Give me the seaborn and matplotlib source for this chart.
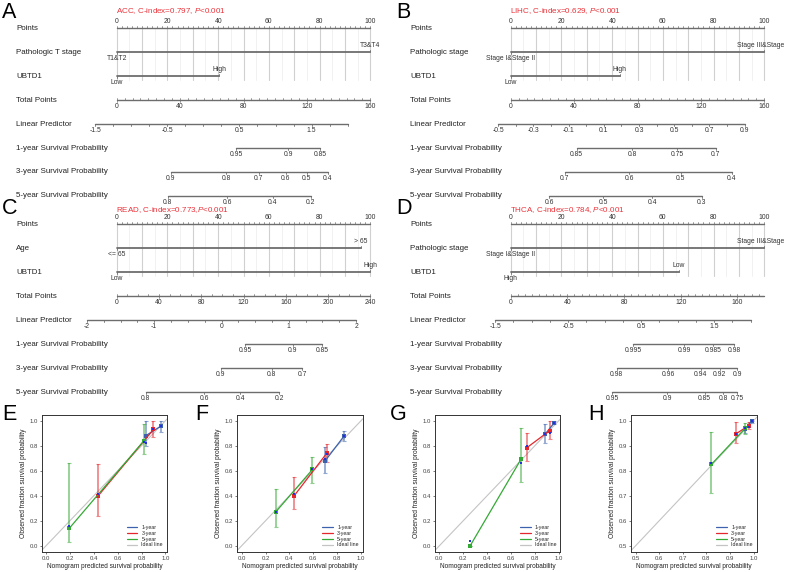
import numpy as np
import pandas as pd
import matplotlib
matplotlib.use("Agg")
import matplotlib.pyplot as plt
import seaborn as sns
from matplotlib.lines import Line2D

sns.set_theme(style="white")
plt.rcParams['font.family'] = ['Liberation Sans', 'DejaVu Sans']
plt.rcParams['mathtext.fontset'] = 'custom'
plt.rcParams['mathtext.rm'] = 'Liberation Sans'
plt.rcParams['mathtext.it'] = 'Liberation Sans:italic'

# ======================= DATA =======================
# --- nomograms (A-D) ---
nomo_letters = ["A", "B", "C", "D"]
nomo_titles = [r"ACC, C-index=0.797, $\mathit{P}$<0.001",
               r"LIHC, C-index=0.629, $\mathit{P}$<0.001",
               r"READ, C-index=0.773,$\mathit{P}$<0.001",
               r"THCA, C-index=0.784, $\mathit{P}$<0.001"]
row_names = ["Points", None, "UBTD1", "Total Points", "Linear Predictor",
             "1-year Survival Probability", "3-year Survival Probability",
             "5-year Survival Probability"]
clin_names = ["Pathologic T stage", "Pathologic stage", "Age", "Pathologic stage"]
clin_levels = [["T1&T2", "T3&T4"],
               ["Stage I&Stage II", "Stage III&Stage"],
               ["<= 65", "> 65"],
               ["Stage I&Stage II", "Stage III&Stage"]]
clin_points = [[0, 100], [0, 100], [0, 96.2], [0, 100]]
ubtd1_levels = [["Low", "High"], ["Low", "High"], ["Low", "High"], ["High", "Low"]]
ubtd1_points = [[0, 40.5], [0, 43.0], [0, 100], [0, 66.4]]
total_max = [160, 160, 240, 179]
total_label_step = [40, 40, 40, 40]
total_minor_step = [5, 5, 10, 5]
lp_range = [(-1.5, 2.0), (-0.5, 0.9), (-2.0, 2.0), (-1.5, 2.0)]
lp_minor_step = [0.25, 0.1, 0.25, 0.25]
lp_labels = [[-1.5, -0.5, 0.5, 1.5],
             [-0.5, -0.3, -0.1, 0.1, 0.3, 0.5, 0.7, 0.9],
             [-2, -1, 0, 1, 2],
             [-1.5, -0.5, 0.5, 1.5]]
lp_zero_total = [54.7, 47.6, 99.2, 66.3]          # total points where LP = 0
lp_total_per_unit = [45.5, 111.1, 63.65, 51.5]     # total points per LP unit
surv1_probs = [[0.95, 0.9, 0.85], [0.85, 0.8, 0.75, 0.7],
               [0.95, 0.9, 0.85], [0.995, 0.99, 0.985, 0.98]]
surv1_total = [[75.2, 108.3, 128.3], [41.6, 76.7, 105.1, 129.3],
               [121.4, 166.6, 194.3], [86.5, 122.3, 143.0, 157.8]]
surv3_probs = [[0.9, 0.8, 0.7, 0.6, 0.5, 0.4], [0.7, 0.6, 0.5, 0.4],
               [0.9, 0.8, 0.7], [0.98, 0.96, 0.94, 0.92, 0.9]]
surv3_total = [[34.2, 69.0, 89.6, 106.6, 119.8, 133.1], [34.1, 74.6, 107.3, 139.4],
               [98.7, 146.7, 175.6], [74.8, 111.0, 134.1, 147.5, 159.9]]
surv5_probs = [[0.8, 0.6, 0.4, 0.2], [0.6, 0.5, 0.4, 0.3],
               [0.8, 0.6, 0.4, 0.2], [0.95, 0.9, 0.85, 0.8, 0.75]]
surv5_total = [[32.2, 69.8, 98.4, 122.4], [24.4, 58.4, 89.3, 120.5],
               [27.4, 82.9, 116.7, 153.6], [71.7, 110.5, 136.9, 150.1, 159.9]]

# --- calibration curves (E-H) ---
calib_letters = ["E", "F", "G", "H"]
series_names = ["1-year", "3-year", "5-year"]
# columns: predicted, observed, lower, upper, bias-corrected
calib_E = {"1-year": [[0.835, 0.88, 0.80, 1.00, 0.82], [0.967, 0.96, 0.91, 1.00, 0.955]],
           "3-year": [[0.437, 0.40, 0.24, 0.65, 0.41], [0.900, 0.93, 0.87, 1.00, 0.935]],
           "5-year": [[0.195, 0.14, 0.03, 0.66, 0.16], [0.820, 0.84, 0.73, 0.97, 0.83]]}
calib_F = {"1-year": [[0.700, 0.68, 0.58, 0.79, 0.69], [0.860, 0.88, 0.84, 0.92, 0.875]],
           "3-year": [[0.440, 0.40, 0.29, 0.55, 0.41], [0.713, 0.74, 0.67, 0.81, 0.73]],
           "5-year": [[0.285, 0.27, 0.15, 0.45, 0.27], [0.593, 0.61, 0.50, 0.71, 0.61]]}
calib_G = {"1-year": [[0.888, 0.895, 0.82, 0.97, 0.89], [0.964, 0.985, 0.97, 1.00, 0.985]],
           "3-year": [[0.734, 0.785, 0.68, 0.90, 0.80], [0.924, 0.92, 0.85, 1.00, 0.905]],
           "5-year": [[0.258, 0.00, 0.00, 0.00, 0.04], [0.683, 0.69, 0.51, 0.94, 0.66]]}
calib_H = {"1-year": [[0.965, 0.965, 0.95, 0.98, 0.97], [0.992, 1.00, 0.99, 1.00, 1.00]],
           "3-year": [[0.926, 0.948, 0.91, 0.995, 0.945], [0.979, 0.98, 0.965, 0.995, 0.975]],
           "5-year": [[0.821, 0.825, 0.71, 0.955, 0.83], [0.965, 0.97, 0.945, 0.99, 0.97]]}
calib_data = [calib_E, calib_F, calib_G, calib_H]
calib_ticks = [[0.0, 0.2, 0.4, 0.6, 0.8, 1.0]] * 3 + [[0.5, 0.6, 0.7, 0.8, 0.9, 1.0]]
calib_lims = [(-0.037, 1.015)] * 3 + [(0.4815, 1.014)]
calib_ylims = [(-0.048, 1.046)] * 3 + [(0.476, 1.023)]

# ======================= STYLE / LAYOUT =======================
W, H = 788, 572
fig = plt.figure(figsize=(W / 100, H / 100), dpi=100)
renderer = fig.canvas.get_renderer()

LINE_C = "#6d6d6d"
TXT_C = "#222222"
TICK_C = "#333333"
ROW_FS = 5.7
TICK_FS = 4.9
PX_PER_PT = 2.536
ORIGIN_PX = 116.7
ROW_PX = 24.0
PANEL_W, PANEL_H = 394, 200

def fmt(v):
    return f"{v:g}"

def keep_inside(ax, t, margin_px=4):
    bb = t.get_window_extent(renderer)
    over = bb.x1 - (W - margin_px)
    if over > 0:
        x, y = t.get_position()
        t.set_position((x - over / PX_PER_PT, y))

def draw_nomogram(i, x0, y0, title_y):
    ax = fig.add_axes([x0 / W, 1 - (y0 + PANEL_H) / H, PANEL_W / W, PANEL_H / H])
    ax.set_xlim(-ORIGIN_PX / PX_PER_PT, (PANEL_W - ORIGIN_PX) / PX_PER_PT)
    ax.set_ylim((PANEL_H - 28) / ROW_PX, -28 / ROW_PX)
    ax.axis("off")
    tk = 2.0 / ROW_PX          # tick length in row units
    off = 6.6 / ROW_PX         # label offset
    lab_x = (16 - ORIGIN_PX) / PX_PER_PT

    # letter & title
    ax.text((2 - ORIGIN_PX) / PX_PER_PT, -0.64, nomo_letters[i], fontsize=15.5,
            ha="left", va="center", color="black")
    ax.text(-0.4, title_y, nomo_titles[i], fontsize=5.75, color="#e8333a",
            ha="left", va="center")

    # row labels
    names = list(row_names)
    names[1] = clin_names[i]
    for r, nm in enumerate(names):
        ax.text(lab_x, r, nm, fontsize=ROW_FS, color=TXT_C, ha="left", va="center")

    # grid lines (points)
    for v in np.arange(0, 101, 5):
        strong = (v % 10 == 0)
        ax.plot([v, v], [0, 2.15], color="#d0d0d0" if strong else "#ebebeb",
                lw=0.8 if strong else 0.5, zorder=0)

    # Points axis
    ax.plot([0, 100], [0, 0], color=LINE_C, lw=1.0)
    for v in np.arange(0, 101, 2):
        ax.plot([v, v], [0, -tk * (1.2 if v % 10 == 0 else 0.8)], color=LINE_C, lw=0.5)
    for v in np.arange(0, 101, 20):
        ax.text(v, -off, fmt(v), fontsize=TICK_FS, color=TICK_C, ha="center", va="center")

    # categorical variables
    for r, (levels, pts) in ((1, (clin_levels[i], clin_points[i])),
                             (2, (ubtd1_levels[i], ubtd1_points[i]))):
        ax.plot([min(pts), max(pts)], [r, r], color=LINE_C, lw=1.3)
        for k, (lv, p) in enumerate(zip(levels, pts)):
            sgn = 1 if k == 0 else -1
            ax.plot([p, p], [r, r + sgn * tk], color=LINE_C, lw=0.6)
            t = ax.text(p, r + sgn * off, lv, fontsize=TICK_FS, color=TICK_C,
                        ha="center", va="center")
            keep_inside(ax, t)

    # Total points
    tmax = total_max[i]
    to_pts = lambda tp: np.asarray(tp) * 100.0 / tmax
    ax.plot([0, 100], [3, 3], color=LINE_C, lw=1.0)
    for tp in np.arange(0, tmax + 0.01, total_minor_step[i]):
        ax.plot([to_pts(tp)] * 2, [3, 3 - tk * 0.8], color=LINE_C, lw=0.5)
    for tp in np.arange(0, tmax + 0.01, total_label_step[i]):
        ax.plot([to_pts(tp)] * 2, [3, 3 + tk * 0.8], color=LINE_C, lw=0.5)
        ax.text(to_pts(tp), 3 + off, fmt(tp), fontsize=TICK_FS, color=TICK_C,
                ha="center", va="center")

    # Linear predictor
    lp_to_pts = lambda lp: to_pts(lp_zero_total[i] + lp_total_per_unit[i] * np.asarray(lp))
    lo, hi = lp_range[i]
    ax.plot([lp_to_pts(lo), lp_to_pts(hi)], [4, 4], color=LINE_C, lw=1.0)
    n = int(round((hi - lo) / lp_minor_step[i]))
    for k in range(n + 1):
        v = lo + k * lp_minor_step[i]
        ax.plot([lp_to_pts(v)] * 2, [4, 4 + tk], color=LINE_C, lw=0.6)
    for v in lp_labels[i]:
        ax.text(lp_to_pts(v), 4 + off, fmt(v), fontsize=TICK_FS, color=TICK_C,
                ha="center", va="center")

    # survival rows
    for r, (probs, tots) in ((5, (surv1_probs[i], surv1_total[i])),
                             (6, (surv3_probs[i], surv3_total[i])),
                             (7, (surv5_probs[i], surv5_total[i]))):
        xs = to_pts(tots)
        ax.plot([xs.min(), xs.max()], [r, r], color=LINE_C, lw=1.0)
        for pr, x in zip(probs, xs):
            ax.plot([x, x], [r, r + tk], color=LINE_C, lw=0.6)
            ax.text(x, r + off, fmt(pr), fontsize=TICK_FS, color=TICK_C,
                    ha="center", va="center")

for i, (x0, y0, ty) in enumerate([(0, 0, -0.70), (394, 0, -0.70),
                                  (0, 196, -0.60), (394, 196, -0.60)]):
    draw_nomogram(i, x0, y0, ty)

# ---------------- calibration plots ----------------
series_colors = {"1-year": "#3d62ad", "3-year": "#e5262c", "5-year": "#35a935"}
corr_color = "#2430e0"
cal_lefts = [41.7, 237.3, 435.0, 631.3]
cal_w = 125.5
cal_top, cal_bot = 415.0, 551.7
letter_x = [2, 195, 390, 588]

for j in range(4):
    rows = []
    for s in series_names:
        for pred, obs, lo, hi, corr in calib_data[j][s]:
            rows.append(dict(series=s, pred=pred, obs=obs, lo=lo, hi=hi, corr=corr))
    df = pd.DataFrame(rows)
    ax = fig.add_axes([cal_lefts[j] / W, 1 - cal_bot / H, cal_w / W, (cal_bot - cal_top) / H])
    ax.set_xlim(*calib_lims[j])
    ax.set_ylim(*calib_ylims[j])
    ax.axline((0.5, 0.5), (1, 1), color="#c4c4c4", lw=0.8, zorder=1)
    for s in series_names:
        d = df[df.series == s]
        ax.errorbar(d.pred, d.obs, yerr=[d.obs - d.lo, d.hi - d.obs], fmt="none",
                    ecolor=series_colors[s], alpha=0.55, elinewidth=1.3,
                    capsize=1.3, capthick=0.8, zorder=2)
    sns.lineplot(data=df, x="pred", y="obs", hue="series", palette=series_colors,
                 hue_order=series_names, estimator=None, lw=0.9, marker="s",
                 markersize=2.6, markeredgewidth=0, legend=False, ax=ax, zorder=3)
    sns.scatterplot(data=df, x="pred", y="corr", color=corr_color, marker="s",
                    s=3.5, linewidth=0, legend=False, ax=ax, zorder=4)
    ax.set_xticks(calib_ticks[j])
    ax.set_yticks(calib_ticks[j])
    ax.set_xticklabels([f"{t:.1f}" for t in calib_ticks[j]])
    ax.set_yticklabels([f"{t:.1f}" for t in calib_ticks[j]])
    ax.tick_params(labelsize=4.3, length=1.6, width=0.5, pad=1.2,
                   colors="#444444", bottom=True, left=True)
    for sp in ax.spines.values():
        sp.set_color("#333333")
        sp.set_linewidth(0.7)
    ax.set_xlabel("Nomogram predicted survival probability", fontsize=4.7,
                  labelpad=2, color="#222222")
    ax.set_ylabel("Observed fraction survival probability", fontsize=4.8,
                  labelpad=2, color="#222222")
    handles = [Line2D([0], [0], color=series_colors[s], lw=0.9) for s in series_names]
    handles.append(Line2D([0], [0], color="#c4c4c4", lw=0.9))
    ax.legend(handles, series_names + ["Ideal line"], loc="lower right",
              fontsize=3.8, frameon=False, handlelength=2.0, handletextpad=0.8,
              labelspacing=0.15, borderaxespad=0.4)
    fig.text(letter_x[j] / W, 1 - 415 / H, calib_letters[j], fontsize=15.5,
             ha="left", va="center", color="black")

fig.savefig("out.png", dpi=100)
